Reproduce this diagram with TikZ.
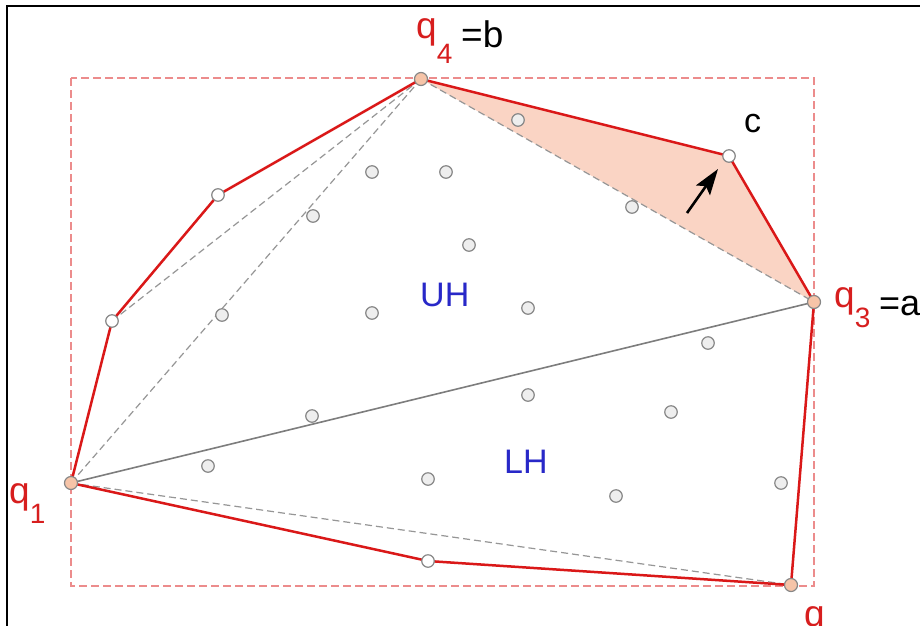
\documentclass[tikz,border=0pt]{standalone}
\usepackage{fontspec}
\setmainfont{Liberation Sans}
\usetikzlibrary{arrows.meta}
\definecolor{hullred}{RGB}{218,24,24}
\definecolor{boxpink}{RGB}{236,140,140}
\definecolor{dashgray}{RGB}{150,150,150}
\definecolor{solidgray}{RGB}{125,125,125}
\definecolor{ptborder}{RGB}{135,135,135}
\definecolor{ptfill}{RGB}{238,238,238}
\definecolor{peach}{RGB}{246,196,168}
\definecolor{trishade}{RGB}{250,212,196}
\definecolor{lblue}{RGB}{40,40,200}
\definecolor{lred}{RGB}{215,30,30}
\begin{document}
\begin{tikzpicture}[x=1pt,y=-1pt,
  pt/.style={circle,draw=ptborder,fill=ptfill,line width=1.2pt,minimum size=12.5pt,inner sep=0pt},
  hullpt/.style={pt,fill=white},
  extpt/.style={pt,fill=peach,minimum size=13pt},
  hull/.style={draw=hullred,line width=2.5pt,line join=round},
  guide/.style={draw=dashgray,line width=1.2pt,dash pattern=on 7pt off 4pt},
  chord/.style={draw=solidgray,line width=1.6pt},
  bbox/.style={draw=boxpink,line width=1.5pt,dash pattern=on 8pt off 4pt},
  lbl/.style={inner sep=0pt,anchor=base west},
  big/.style={font=\fontsize{37}{37}\selectfont},
  mid/.style={font=\fontsize{34}{34}\selectfont},
]
\useasboundingbox (0,0) rectangle (920,625);
\clip (0,0) rectangle (920,625);
\fill[white] (0,0) rectangle (920,625);
\draw[line width=2.6pt] (7,6) rectangle (950,660);

% hull vertices and points
\coordinate (q1) at (71,483);
\coordinate (h1) at (112,321);
\coordinate (h2) at (218,195);
\coordinate (q4) at (421,79);
\coordinate (c)  at (729,156);
\coordinate (q3) at (814,302);
\coordinate (q2) at (791,585);
\coordinate (h3) at (428,561);

% bounding box
\draw[bbox] (71,78) rectangle (814,586);

% shaded triangle
\fill[trishade] (q4) -- (c) -- (q3) -- cycle;

% guides
\draw[guide] (h1) -- (q4);
\draw[guide] (q1) -- (q4);
\draw[guide] (q4) -- (q3);
\draw[guide] (q1) -- (q2);
\draw[chord] (q1) -- (q3);

% hull
\draw[hull] (q1) -- (h1) -- (h2) -- (q4) -- (c) -- (q3) -- (q2) -- (h3) -- cycle;

% interior points
\node[pt] (p1)  at (372,172) {};
\node[pt] (p2)  at (446,172) {};
\node[pt] (p3)  at (518,120) {};
\node[pt] (p4)  at (313,216) {};
\node[pt] (p5)  at (469,245) {};
\node[pt] (p6)  at (632,207) {};
\node[pt] (p7)  at (222,315) {};
\node[pt] (p8)  at (372,313) {};
\node[pt] (p9)  at (528,308) {};
\node[pt] (p10) at (708,343) {};
\node[pt] (p11) at (312,416) {};
\node[pt] (p12) at (528,395) {};
\node[pt] (p13) at (671,412) {};
\node[pt] (p14) at (208,466) {};
\node[pt] (p15) at (428,479) {};
\node[pt] (p16) at (616,496) {};
\node[pt] (p17) at (781,483) {};

% hull points
\node[hullpt] (nh1) at (h1) {};
\node[hullpt] (nh2) at (h2) {};
\node[hullpt] (nh3) at (h3) {};
\node[hullpt] (nc)  at (c) {};
\node[extpt] (nq1) at (q1) {};
\node[extpt] (nq2) at (q2) {};
\node[extpt] (nq3) at (q3) {};
\node[extpt] (nq4) at (q4) {};

% arrow
\coordinate (atail) at (687,213);
\coordinate (ahead) at (718,169);
\draw[-{Stealth[length=26pt,width=17pt,inset=5pt]},line width=2.6pt] (atail) -- (ahead);

% labels
\node[lbl,big,text=lred] (lq4) at (416,38) {q\raisebox{-25pt}{\fontsize{28}{28}\selectfont 4}};
\node[lbl,big] (lb) at (461,47) {=b};
\node[lbl,big,text=lred] (lq3) at (834,307) {q\raisebox{-20pt}{\fontsize{28}{28}\selectfont 3}};
\node[lbl,font=\fontsize{36}{36}\selectfont] (la) at (879,315) {=a};
\node[lbl,big,text=lred] (lq1) at (9,503) {q\raisebox{-20pt}{\fontsize{28}{28}\selectfont 1}};
\node[lbl,big,text=lred] (lq2) at (804,626) {q\raisebox{-20pt}{\fontsize{28}{28}\selectfont 2}};
\node[lbl,mid] (lc) at (744,132) {c};
\node[lbl,mid,text=lblue] (luh) at (420,306) {UH};
\node[lbl,mid,text=lblue] (llh) at (504,473) {LH};
\end{tikzpicture}
\end{document}
